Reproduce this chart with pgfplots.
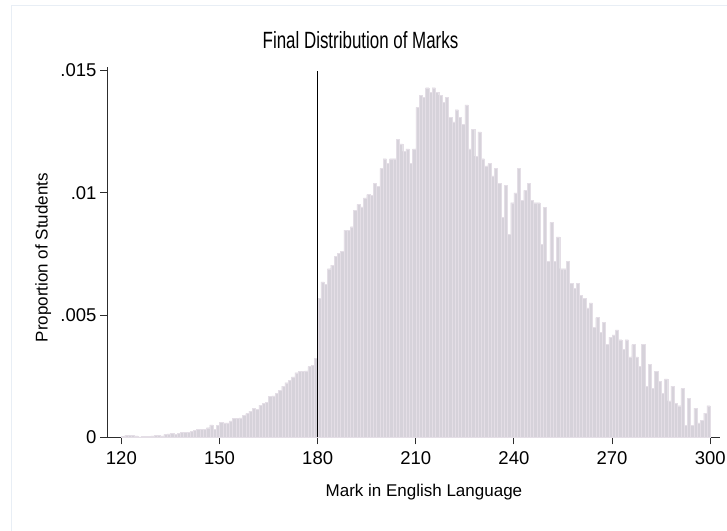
\documentclass[border=0pt]{standalone}
\usepackage{pgfplots}
\pgfplotsset{compat=1.18}
\usepackage{pgfplotstable}
\usepackage{fontspec}
\setmainfont{Liberation Sans}
\newfontfamily\titlefont[FakeStretch=0.72]{Liberation Sans}
\definecolor{barfill}{RGB}{214,210,218}
\definecolor{barline}{RGB}{228,222,230}
\definecolor{framecol}{RGB}{232,238,245}
\definecolor{axcol}{RGB}{45,45,45}
\pgfplotstableread{
x y
120 0.00004
121 0.00009
122 0.00009
123 0.00009
124 0.00007
125 0.00003
126 0.00005
127 0.00005
128 0.00005
129 0.00007
130 0.00009
131 0.00009
132 0.00007
133 0.00014
134 0.00015
135 0.00017
136 0.00013
137 0.00017
138 0.00020
139 0.00020
140 0.00021
141 0.00024
142 0.00030
143 0.00033
144 0.00033
145 0.00033
146 0.00040
147 0.00052
148 0.00034
149 0.00050
150 0.00062
151 0.00060
152 0.00060
153 0.00068
154 0.00078
155 0.00078
156 0.00080
157 0.00090
158 0.00098
159 0.00108
160 0.00120
161 0.00114
162 0.00132
163 0.00140
164 0.00145
165 0.00167
166 0.00170
167 0.00180
168 0.00193
169 0.00210
170 0.00224
171 0.00235
172 0.00248
173 0.00265
174 0.00270
175 0.00270
176 0.00272
177 0.00290
178 0.00296
179 0.00323
180 0.00568
181 0.00636
182 0.00627
183 0.00690
184 0.00705
185 0.00740
186 0.00752
187 0.00762
188 0.00848
189 0.00848
190 0.00862
191 0.00930
192 0.00953
193 0.00943
194 0.00980
195 0.00993
196 0.00990
197 0.01038
198 0.01028
199 0.0110
200 0.0114
201 0.0112
202 0.0114
203 0.0114
204 0.0122
205 0.0120
206 0.0117
207 0.0118
208 0.0112
209 0.0118
210 0.0135
211 0.0140
212 0.0139
213 0.0143
214 0.0141
215 0.0143
216 0.0141
217 0.0140
218 0.0137
219 0.0139
220 0.0131
221 0.0129
222 0.0134
223 0.0131
224 0.0128
225 0.0136
226 0.0118
227 0.0126
228 0.0115
229 0.0125
230 0.0114
231 0.0111
232 0.0112
233 0.0107
234 0.0110
235 0.0104
236 0.0090
237 0.0103
238 0.0083
239 0.0096
240 0.0100
241 0.0110
242 0.0097
243 0.0101
244 0.0104
245 0.0097
246 0.0096
247 0.0096
248 0.0079
249 0.0094
250 0.0072
251 0.0088
252 0.0072
253 0.0082
254 0.0069
255 0.0069
256 0.0072
257 0.0063
258 0.0061
259 0.0063
260 0.0058
261 0.0057
262 0.0053
263 0.0055
264 0.0045
265 0.0049
266 0.0043
267 0.0047
268 0.0038
269 0.0041
270 0.0042
271 0.0044
272 0.0040
273 0.0036
274 0.0040
275 0.0033
276 0.0038
277 0.0033
278 0.0029
279 0.0038
280 0.0021
281 0.0030
282 0.0020
283 0.0027
284 0.0023
285 0.0018
286 0.0024
287 0.0015
288 0.0021
289 0.0014
290 0.0013
291 0.0020
292 0.0005
293 0.0016
294 0.0005
295 0.0012
296 0.0006
297 0.0007
298 0.0010
299 0.0013
300 0.0013
}\marks
\begin{document}
\begin{tikzpicture}[x=1bp,y=1bp]
\path[use as bounding box] (0,0) rectangle (727,531);
\draw[framecol, line width=1bp] (11,0) -- (11,525) -- (727,525);
\node[font=\titlefont\fontsize{23.5bp}{27bp}\selectfont] at (360.5,491) {Final Distribution of Marks};
\begin{axis}[
  at={(107bp,93.5bp)}, anchor=south west,
  scale only axis, width=613bp, height=370.8bp,
  xmin=115.6, xmax=303, ymin=0, ymax=0.01516,
  axis lines=left, axis line style={-, axcol, line width=1bp},
  tick align=outside, major tick length=7bp,
  tick style={axcol, line width=1bp},
  xtick={120,150,180,210,240,270,300},
  xticklabels={120,150,180,210,240,270,300},
  ytick={0,0.005,0.01,0.015},
  yticklabels={0,.005,.01,.015},
  scaled y ticks=false,
  tick label style={font=\fontsize{18.5bp}{21bp}\selectfont},
  xticklabel style={yshift=-4bp},
  xlabel={Mark in English Language},
  ylabel={Proportion of Students},
  label style={font=\fontsize{17bp}{20bp}\selectfont},
  xlabel style={at={(axis description cs:0.517,-0.147)}, anchor=center},
  ylabel style={at={(axis description cs:-0.104,0.485)}, anchor=center},
]
\addplot[ybar interval, fill=barfill, draw=barline, line width=0.3bp] table[x=x,y=y] {\marks};
\addplot[black, line width=1.5bp] coordinates {(180,0) (180,0.015)};
\end{axis}
\end{tikzpicture}
\end{document}
